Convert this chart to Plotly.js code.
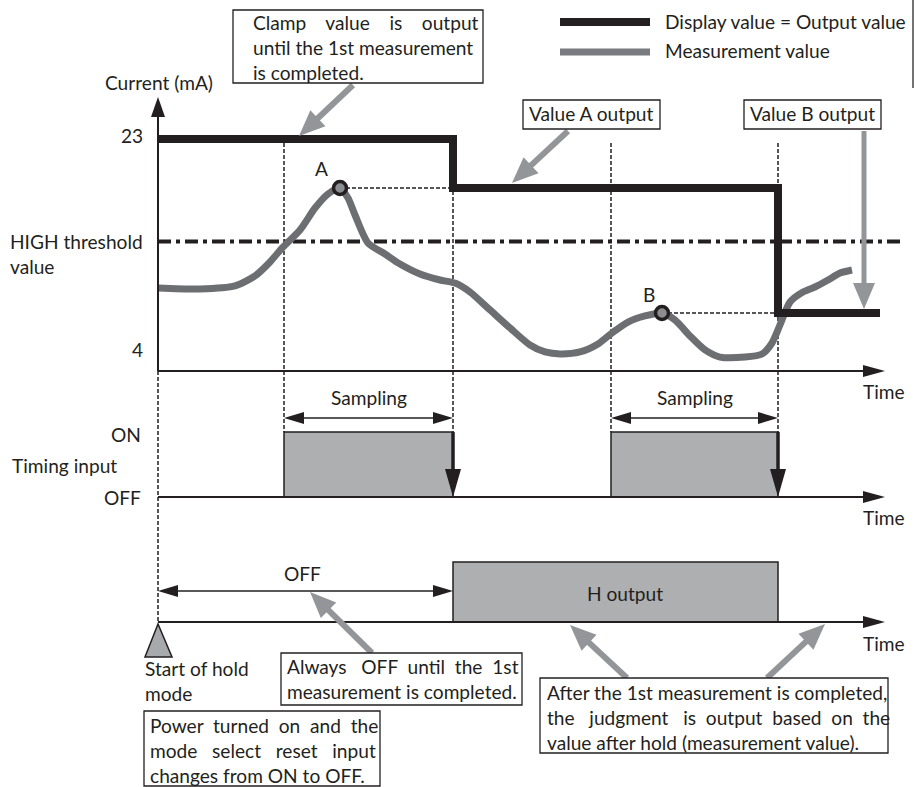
<!DOCTYPE html>
<html><head><meta charset="utf-8">
<script src="https://cdn.plot.ly/plotly-3.0.1.min.js"></script>
<style>html,body{margin:0;padding:0;background:#fff;overflow:hidden}</style>
</head><body><div id="chart" style="width:914px;height:787px"></div>
<script>
// ---------------- data ----------------
const measTime  = [0, 4.2, 7.7, 9.7, 11.2, 12.4, 14.2, 15.7, 17.0, 18.2, 19.0, 19.7, 21.0, 22.7, 24.2, 26.2, 28.2, 29.7, 31.2, 33.2, 35.2, 37.2, 38.7, 40.2, 42.2, 44.0, 45.4, 47.0, 48.7, 50.4, 51.7, 53.2, 54.7, 56.2, 58.7, 60.4, 61.4, 62.2, 63.2, 64.5, 65.7, 67.0, 68.2, 69.4];
const measValue = [9.77, 9.68, 9.95, 10.84, 12.08, 13.32, 14.92, 16.87, 18.12, 18.65, 17.76, 16.25, 13.77, 12.79, 11.90, 11.01, 10.48, 10.21, 9.42, 7.82, 6.22, 4.71, 4.09, 3.91, 4.09, 4.80, 5.78, 6.75, 7.29, 7.55, 6.93, 5.51, 4.27, 3.64, 3.64, 3.91, 4.89, 6.49, 8.53, 9.42, 9.86, 10.48, 11.10, 11.37];
const outputTime  = [0, 29.5, 29.5, 62.0, 62.0, 72.2];
const outputValue = [23, 23, 18.65, 18.65, 7.55, 7.55];
const thresholdValue = 13.9;
const thresholdSpan = [0, 74.5];
const samplingStart = [12.6, 45.3];
const samplingEnd   = [29.5, 62.0];
const holdLabels = ['A', 'B'];
const holdTime   = [18.2, 50.4];
const holdValue  = [18.65, 7.55];
const hOutputStart = [29.5];
const hOutputEnd   = [62.0];
const yTickValues = [23, 4];
const yTickLabels = ['23', '4'];
const timingLevelValues = [1, 0];
const timingLevelLabels = ['ON', 'OFF'];

// ---------------- layout constants ----------------
const W = 914, H = 787;
const X0 = -15.8, X1 = 75.6;
const Y_MA = [-34.533, 35.341], Y_TIM = [-4.4615, 7.6462], Y_HO = [-2.75, 10.3667];
const INK = '#231f20', MEAS = '#6d6e71', CALL = '#939598', FILL = '#adafb1';
const FAMILY = 'Lato';
const FONT = 'Lato, "Open Sans", sans-serif';
const PX = x => x / W, PY = y => 1 - y / H;
const tPx = t => (t - X0) / (X1 - X0) * W;
const vPx = (v, r) => H * (r[1] - v) / (r[1] - r[0]);

const ctx = document.createElement('canvas').getContext('2d');
function measure(s, size) { ctx.font = size + 'px ' + FAMILY; return ctx.measureText(s).width; }
let FS = 19 * 341 / measure('After the 1st measurement is completed,', 19);
FS = Math.max(15, Math.min(21, FS));

const shapes = [], anns = [];
function segLine(x0, y0, x1, y1, color, width, dash, layer) {
  return {type: 'line', xref: 'paper', yref: 'paper', x0: PX(x0), y0: PY(y0), x1: PX(x1), y1: PY(y1),
          line: {color: color, width: width, dash: dash || 'solid'}, layer: layer || 'above'};
}
function triPath(pts, fill, lineColor, lw) {
  const d = 'M' + pts.map(p => PX(p[0]) + ',' + PY(p[1])).join(' L') + ' Z';
  return {type: 'path', xref: 'paper', yref: 'paper', path: d, fillcolor: fill,
          line: {color: lineColor || fill, width: lw || 0}, layer: 'above'};
}
function arrowHead(tx, ty, dx, dy, len, hw, color) {
  const n = Math.hypot(dx, dy), ux = dx / n, uy = dy / n;
  const bx = tx - ux * len, by = ty - uy * len, qx = -uy, qy = ux;
  return triPath([[tx, ty], [bx + qx * hw, by + qy * hw], [bx - qx * hw, by - qy * hw]], color);
}
function arrow(x0, y0, x1, y1, o) {
  const dx = x1 - x0, dy = y1 - y0, n = Math.hypot(dx, dy), ux = dx / n, uy = dy / n;
  const sx = o.both ? x0 + ux * o.len * 0.8 : x0, sy = o.both ? y0 + uy * o.len * 0.8 : y0;
  shapes.push(segLine(sx, sy, x1 - ux * o.len * 0.8, y1 - uy * o.len * 0.8, o.color, o.width));
  shapes.push(arrowHead(x1, y1, dx, dy, o.len, o.hw, o.color));
  if (o.both) shapes.push(arrowHead(x0, y0, -dx, -dy, o.len, o.hw, o.color));
}
function box(x0, y0, x1, y1) {
  shapes.push({type: 'rect', xref: 'paper', yref: 'paper', x0: PX(x0), x1: PX(x1), y0: PY(y1), y1: PY(y0),
               line: {color: INK, width: 1.3}, fillcolor: '#ffffff', layer: 'above'});
}
function txt(text, x, y, anchor, size, color) {
  anns.push({xref: 'paper', yref: 'paper', x: PX(x), y: PY(y), text: text, showarrow: false,
             xanchor: anchor || 'left', yanchor: 'middle', align: 'left', borderpad: 0, borderwidth: 0,
             font: {family: FONT, size: size || FS, color: color || INK}});
}
// stretch a line to a target width with extra non-breaking spaces
function justLine(line, target) {
  const words = line.split(' ');
  const sp = measure('\u00a0', FS);
  const base = measure(words.join(' '), FS);
  const gaps = words.length - 1;
  const extra = Math.max(0, Math.round((target - base) / sp));
  let out = words[0];
  for (let i = 1; i < words.length; i++) {
    const n = 1 + Math.floor(extra / gaps) + (i <= extra % gaps ? 1 : 0);
    out += '\u00a0'.repeat(n) + words[i];
  }
  return out;
}

// ---------------- traces ----------------
const traces = [];
traces.push({x: thresholdSpan, y: [thresholdValue, thresholdValue], mode: 'lines', hoverinfo: 'skip',
  line: {color: INK, width: 4, dash: '13px,5px,4px,5px'}});
holdTime.forEach((t, i) => {
  const k = samplingEnd.findIndex(e => e > t);
  traces.push({x: [t, samplingEnd[k]], y: [holdValue[i], holdValue[i]], mode: 'lines', hoverinfo: 'skip',
    line: {color: INK, width: 1.5, dash: '4px,2px'}});
});
traces.push({x: measTime, y: measValue, mode: 'lines', name: 'Measurement value',
  line: {color: MEAS, width: 7, shape: 'spline', smoothing: 0.7}});
traces.push({x: outputTime, y: outputValue, mode: 'lines', name: 'Display value = Output value',
  line: {color: INK, width: 8}});
traces.push({x: holdTime, y: holdValue, mode: 'markers', marker: {size: 13, color: '#8c8d90', line: {color: INK, width: 3.5}}});
const tx = [], ty = [];
samplingStart.forEach((s, i) => { tx.push(s, s, samplingEnd[i], samplingEnd[i], s, null); ty.push(0, 1, 1, 0, 0, null); });
traces.push({x: tx, y: ty, yaxis: 'y2', mode: 'lines', fill: 'toself', fillcolor: FILL, line: {color: INK, width: 1.5}, hoverinfo: 'skip'});
const hx = [], hy = [];
hOutputStart.forEach((s, i) => { hx.push(s, s, hOutputEnd[i], hOutputEnd[i], s, null); hy.push(0, 1, 1, 0, 0, null); });
traces.push({x: hx, y: hy, yaxis: 'y3', mode: 'lines', fill: 'toself', fillcolor: FILL, line: {color: INK, width: 1.5}, hoverinfo: 'skip'});

// ---------------- decorations ----------------
const axX = tPx(0);
const onPx = vPx(1, Y_TIM), offPx = vPx(0, Y_TIM), hBase = vPx(0, Y_HO);
const timeAxisY = 371;
samplingStart.concat(samplingEnd).forEach(t => {
  shapes.push({type: 'line', xref: 'x', yref: 'paper', x0: t, x1: t, y0: PY(143), y1: PY(onPx),
               line: {color: INK, width: 1.5, dash: '4px,2px'}, layer: 'below'});
});
shapes.push(segLine(axX, timeAxisY, axX, hBase, INK, 1.5, '4px,2px', 'below'));
arrow(axX, timeAxisY, axX, 97, {color: INK, width: 2, len: 20, hw: 7});
[timeAxisY, offPx, hBase].forEach(y => arrow(axX, y, 885, y, {color: INK, width: 1.8, len: 22, hw: 6}));
samplingStart.forEach((s, i) => {
  arrow(tPx(s), 418, tPx(samplingEnd[i]), 418, {color: INK, width: 1.5, len: 20, hw: 6, both: true});
  txt('Sampling', (tPx(s) + tPx(samplingEnd[i])) / 2, 397, 'center');
  arrow(tPx(samplingEnd[i]), onPx, tPx(samplingEnd[i]), offPx, {color: INK, width: 3.5, len: 28, hw: 8});
});
arrow(axX, 591, tPx(hOutputStart[0]), 591, {color: INK, width: 1.5, len: 20, hw: 6, both: true});
shapes.push(triPath([[axX, 624], [axX - 13, 657], [axX + 14, 657]], '#a7a9ac', INK, 1.5));
arrow(353, 85, 299, 136, {color: CALL, width: 6, len: 26, hw: 11});
arrow(568, 131, 512, 183, {color: CALL, width: 6, len: 26, hw: 11});
arrow(864, 131, 864, 309, {color: CALL, width: 5, len: 26, hw: 11});
arrow(372, 653, 310, 592, {color: CALL, width: 6, len: 26, hw: 11});
arrow(627, 678, 570, 625, {color: CALL, width: 6, len: 26, hw: 11});
arrow(767, 678, 825, 624, {color: CALL, width: 6, len: 26, hw: 11});
// legend
shapes.push(segLine(560, 22, 650, 22, INK, 8));
shapes.push(segLine(560, 52, 650, 52, '#7a7b7e', 7));
txt('Display value = Output value', 665, 21);
txt('Measurement value', 665, 51);
shapes.push(segLine(913, 0, 913, 88, '#444', 1.5));
// boxes with multi-line text
box(233, 10, 483, 83);
txt([justLine('Clamp value is output', 226), 'until the 1st measurement', 'is completed.'].join('<br>'), 253, 47.5);
box(523, 100, 660, 129); txt('Value A output', 591.5, 114, 'center');
box(744, 100, 881, 129); txt('Value B output', 812.5, 114, 'center');
box(281, 653, 522, 705);
txt([justLine('Always OFF until the 1st', 231), 'measurement is completed.'].join('<br>'), 287, 679);
box(144, 711, 380, 786);
txt([justLine('Power turned on and the', 227), justLine('mode select reset input', 227), 'changes from ON to OFF.'].join('<br>'), 150, 750);
box(540, 678, 888, 753);
txt(['After the 1st measurement is completed,', justLine('the judgment is output based on the', 344), 'value after hold (measurement value).'].join('<br>'), 547, 717);
// labels
txt('Current (mA)', 105, 82);
yTickValues.forEach((v, i) => anns.push({xref: 'paper', yref: 'y', x: PX(143), y: v, yshift: 4, text: yTickLabels[i],
  showarrow: false, xanchor: 'right', yanchor: 'middle', borderpad: 0, borderwidth: 0, font: {family: FONT, size: FS, color: INK}}));
txt('HIGH threshold<br>value', 10, 254.5);
holdLabels.forEach((l, i) => anns.push({xref: 'x', yref: 'y', x: holdTime[i], y: holdValue[i], text: l, showarrow: false,
  xshift: i === 0 ? -19 : -13, yshift: 19, xanchor: 'center', yanchor: 'middle', borderpad: 0, borderwidth: 0,
  font: {family: FONT, size: FS, color: INK}}));
[timeAxisY + 20, offPx + 20, hBase + 21].forEach(y => txt('Time', 863, y));
timingLevelValues.forEach((v, i) => anns.push({xref: 'paper', yref: 'y2', x: PX(141), y: v, yshift: i === 0 ? -2 : 0, text: timingLevelLabels[i],
  showarrow: false, xanchor: 'right', yanchor: 'middle', borderpad: 0, borderwidth: 0, font: {family: FONT, size: FS, color: INK}}));
txt('Timing input', 12, 465);
txt('OFF', 302, 573, 'center');
txt('H output', 625, 593, 'center');
txt('Start of hold<br>mode', 145, 681);

const layout = {
  width: W, height: H, margin: {l: 0, r: 0, t: 0, b: 0}, paper_bgcolor: '#fff', plot_bgcolor: '#fff',
  showlegend: false, font: {family: FONT, color: INK},
  xaxis: {range: [X0, X1], visible: false, fixedrange: true},
  yaxis: {range: Y_MA, visible: false, fixedrange: true},
  yaxis2: {range: Y_TIM, visible: false, overlaying: 'y', fixedrange: true},
  yaxis3: {range: Y_HO, visible: false, overlaying: 'y', fixedrange: true},
  shapes: shapes, annotations: anns
};
Plotly.newPlot('chart', traces, layout, {staticPlot: true, displayModeBar: false});
</script></body></html>
